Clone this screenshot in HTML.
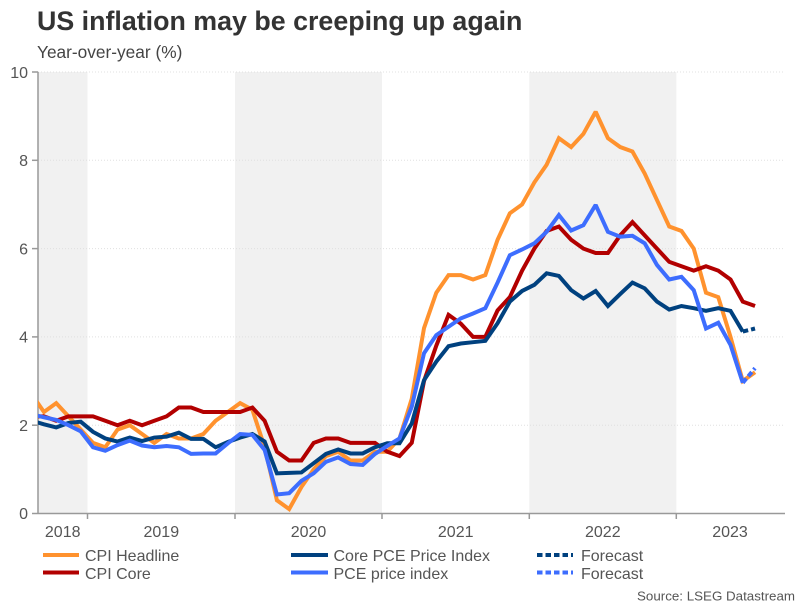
<!DOCTYPE html>
<html>
<head>
<meta charset="utf-8">
<style>
html,body{margin:0;padding:0;background:#fff;}
svg{display:block;}
text{font-family:"Liberation Sans",Arial,sans-serif;}
</style>
</head>
<body>
<svg width="806" height="605" viewBox="0 0 806 605" xmlns="http://www.w3.org/2000/svg">
<rect x="0" y="0" width="806" height="605" fill="#fff"/>
<text x="37" y="30" font-size="26.8" font-weight="bold" fill="#333">US inflation may be creeping up again</text>
<text x="37" y="58" font-size="17.3" fill="#444">Year-over-year (%)</text>

<!-- shading -->
<rect x="38" y="72" width="49.5" height="441.5" fill="#f1f1f1"/>
<rect x="235" y="72" width="147" height="441.5" fill="#f1f1f1"/>
<rect x="529.3" y="72" width="147" height="441.5" fill="#f1f1f1"/>

<!-- gridlines -->
<g stroke="#e0e0e0" stroke-width="1" stroke-dasharray="1 2">
<line x1="38" y1="72" x2="785" y2="72"/>
<line x1="38" y1="160.3" x2="785" y2="160.3"/>
<line x1="38" y1="248.6" x2="785" y2="248.6"/>
<line x1="38" y1="336.9" x2="785" y2="336.9"/>
<line x1="38" y1="425.2" x2="785" y2="425.2"/>
</g>

<!-- axes -->
<g stroke="#999" stroke-width="1.5">
<line x1="38" y1="72" x2="38" y2="513.5"/>
<line x1="38" y1="513.5" x2="785" y2="513.5"/>
<line x1="32" y1="72" x2="38" y2="72"/>
<line x1="32" y1="160.3" x2="38" y2="160.3"/>
<line x1="32" y1="248.6" x2="38" y2="248.6"/>
<line x1="32" y1="336.9" x2="38" y2="336.9"/>
<line x1="32" y1="425.2" x2="38" y2="425.2"/>
<line x1="32" y1="513.5" x2="38" y2="513.5"/>
<line x1="87.5" y1="513.5" x2="87.5" y2="519"/>
<line x1="235" y1="513.5" x2="235" y2="519"/>
<line x1="382" y1="513.5" x2="382" y2="519"/>
<line x1="529.3" y1="513.5" x2="529.3" y2="519"/>
<line x1="676.3" y1="513.5" x2="676.3" y2="519"/>
</g>

<g font-size="16" fill="#555" text-anchor="end">
<text x="28" y="78">10</text>
<text x="28" y="166">8</text>
<text x="28" y="254.5">6</text>
<text x="28" y="342.5">4</text>
<text x="28" y="431">2</text>
<text x="28" y="519">0</text>
</g>
<g font-size="16" fill="#555" text-anchor="middle">
<text x="62.7" y="537">2018</text>
<text x="161.3" y="537">2019</text>
<text x="308.5" y="537">2020</text>
<text x="455.7" y="537">2021</text>
<text x="602.8" y="537">2022</text>
<text x="730" y="537">2023</text>
</g>

<defs>
<clipPath id="pc" clipPathUnits="userSpaceOnUse"><rect x="38" y="60" width="760" height="454"/></clipPath>
</defs>

<g clip-path="url(#pc)">
<g transform="matrix(12.26 0 0 -44.15 93 513.5)" fill="none" stroke-width="4" stroke-linejoin="miter" stroke-miterlimit="2">
<polyline vector-effect="non-scaling-stroke" stroke="#ff922e" points="-5,2.7 -4,2.3 -3,2.5 -2,2.2 -1,1.9 0,1.6 1,1.5 2,1.9 3,2.0 4,1.8 5,1.6 6,1.8 7,1.7 8,1.7 9,1.8 10,2.1 11,2.3 12,2.5 13,2.35 14,1.5 15,0.3 16,0.1 17,0.6 18,1.0 19,1.3 20,1.4 21,1.2 22,1.2 23,1.4 24,1.4 25,1.7 26,2.6 27,4.2 28,5.0 29,5.4 30,5.4 31,5.3 32,5.4 33,6.2 34,6.8 35,7.0 36,7.5 37,7.9 38,8.5 39,8.3 40,8.6 41,9.1 42,8.5 43,8.3 44,8.2 45,7.7 46,7.1 47,6.5 48,6.4 49,6.0 50,5.0 51,4.9 52,4.0 53,3.0 54,3.2"/>
<polyline vector-effect="non-scaling-stroke" stroke="#b20000" points="-5,2.2 -4,2.2 -3,2.1 -2,2.2 -1,2.2 0,2.2 1,2.1 2,2.0 3,2.1 4,2.0 5,2.1 6,2.2 7,2.4 8,2.4 9,2.3 10,2.3 11,2.3 12,2.3 13,2.4 14,2.1 15,1.4 16,1.2 17,1.2 18,1.6 19,1.7 20,1.7 21,1.6 22,1.6 23,1.6 24,1.4 25,1.3 26,1.6 27,3.0 28,3.8 29,4.5 30,4.3 31,4.0 32,4.0 33,4.6 34,4.9 35,5.5 36,6.0 37,6.4 38,6.5 39,6.2 40,6.0 41,5.9 42,5.9 43,6.3 44,6.6 45,6.3 46,6.0 47,5.7 48,5.6 49,5.5 50,5.6 51,5.5 52,5.3 53,4.8 54,4.7"/>
<polyline vector-effect="non-scaling-stroke" stroke="#00417f" points="-5,2.1 -4,2.02 -3,1.95 -2,2.05 -1,2.08 0,1.85 1,1.70 2,1.63 3,1.72 4,1.64 5,1.72 6,1.74 7,1.83 8,1.69 9,1.69 10,1.50 11,1.62 12,1.72 13,1.80 14,1.63 15,0.91 16,0.92 17,0.93 18,1.14 19,1.35 20,1.45 21,1.36 22,1.36 23,1.50 24,1.59 25,1.59 26,2.04 27,3.02 28,3.44 29,3.79 30,3.85 31,3.88 32,3.91 33,4.31 34,4.80 35,5.04 36,5.18 37,5.44 38,5.38 39,5.06 40,4.87 41,5.04 42,4.70 43,4.97 44,5.23 45,5.10 46,4.80 47,4.62 48,4.70 49,4.65 50,4.59 51,4.65 52,4.59 53,4.12"/>
<polyline vector-effect="non-scaling-stroke" stroke="#3d6dfe" points="-5,2.25 -4,2.18 -3,2.12 -2,2.0 -1,1.86 0,1.50 1,1.42 2,1.55 3,1.65 4,1.54 5,1.50 6,1.53 7,1.50 8,1.35 9,1.36 10,1.36 11,1.59 12,1.80 13,1.78 14,1.44 15,0.43 16,0.46 17,0.74 18,0.91 19,1.17 20,1.27 21,1.12 22,1.10 23,1.35 24,1.53 25,1.70 26,2.42 27,3.63 28,4.04 29,4.23 30,4.42 31,4.53 32,4.65 33,5.23 34,5.85 35,5.98 36,6.12 37,6.38 38,6.76 39,6.41 40,6.53 41,6.99 42,6.38 43,6.27 44,6.29 45,6.12 46,5.63 47,5.30 48,5.36 49,5.06 50,4.19 51,4.32 52,3.82 53,2.96"/>
</g>
<!-- forecasts -->
<line x1="742.8" y1="331.6" x2="755" y2="328.5" stroke="#00417f" stroke-width="4" stroke-dasharray="5.5 3"/>
<line x1="742.8" y1="382.8" x2="755" y2="368.2" stroke="#3d6dfe" stroke-width="4" stroke-dasharray="5.5 3"/>
</g>

<!-- legend -->
<g stroke-width="4">
<line x1="43" y1="555" x2="79" y2="555" stroke="#ff922e"/>
<line x1="43" y1="572.5" x2="79" y2="572.5" stroke="#b20000"/>
<line x1="291" y1="555" x2="328" y2="555" stroke="#00417f"/>
<line x1="291" y1="572.5" x2="328" y2="572.5" stroke="#3d6dfe"/>
<line x1="537" y1="555" x2="573" y2="555" stroke="#00417f" stroke-dasharray="5.5 3"/>
<line x1="537" y1="572.5" x2="573" y2="572.5" stroke="#3d6dfe" stroke-dasharray="5.5 3"/>
</g>
<g font-size="16" fill="#555">
<text x="85" y="561">CPI Headline</text>
<text x="85" y="579">CPI Core</text>
<text x="333.5" y="561">Core PCE Price Index</text>
<text x="333.5" y="579">PCE price index</text>
<text x="581" y="561">Forecast</text>
<text x="581" y="579">Forecast</text>
</g>
<text x="795" y="600.5" font-size="13.35" fill="#555" text-anchor="end">Source: LSEG Datastream</text>
</svg>
</body>
</html>
